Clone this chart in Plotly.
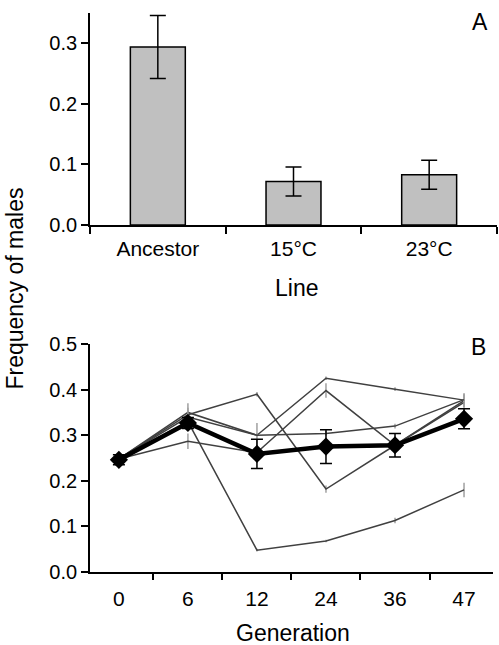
import plotly.graph_objects as go

# Panel A data
lines_a = ["Ancestor", "15°C", "23°C"]
freq_a = [0.294, 0.072, 0.083]
err_a = [0.052, 0.024, 0.024]

# Panel B data
generations = ["0", "6", "12", "24", "36", "47"]
rep1 = [0.248, 0.345, 0.390, 0.182, 0.278, 0.376]
rep2 = [0.248, 0.350, 0.300, 0.425, 0.401, 0.377]
rep3 = [0.248, 0.287, 0.262, 0.398, 0.278, 0.372]
rep4 = [0.248, 0.340, 0.300, 0.304, 0.320, 0.378]
rep5 = [0.248, 0.330, 0.048, 0.068, 0.113, 0.180]
rep1_err = [0.005, 0.010, 0.005, 0.008, 0.005, 0.015]
rep2_err = [0.005, 0.020, 0.005, 0.004, 0.004, 0.015]
rep3_err = [0.005, 0.017, 0.010, 0.016, 0.008, 0.012]
rep4_err = [0.005, 0.020, 0.027, 0.005, 0.005, 0.010]
rep5_err = [0.005, 0.010, 0.003, 0.003, 0.006, 0.016]
mean_b = [0.246, 0.327, 0.259, 0.275, 0.278, 0.336]
mean_err = [0.011, 0.012, 0.032, 0.037, 0.026, 0.022]

FONT = "Liberation Sans, Arial, sans-serif"

fig = go.Figure()

fig.add_trace(go.Bar(
    x=lines_a, y=freq_a,
    marker=dict(color="#c0c0c0", line=dict(color="black", width=1.5)),
    error_y=dict(type="data", array=err_a, color="black", thickness=1.5, width=8),
    xaxis="x", yaxis="y", showlegend=False,
))

reps = [rep1, rep2, rep3, rep4, rep5]
rerrs = [rep1_err, rep2_err, rep3_err, rep4_err, rep5_err]
for r, e in zip(reps, rerrs):
    fig.add_trace(go.Scatter(
        x=generations, y=r, mode="lines",
        line=dict(color="#404040", width=1.5),
        error_y=dict(type="data", array=e, color="#a0a0a0", thickness=1.5, width=0),
        xaxis="x2", yaxis="y2", showlegend=False,
    ))

fig.add_trace(go.Scatter(
    x=generations, y=mean_b, mode="lines+markers",
    line=dict(color="black", width=4.5),
    marker=dict(symbol="diamond", size=14, color="black"),
    error_y=dict(type="data", array=mean_err, color="black", thickness=1.5, width=6),
    xaxis="x2", yaxis="y2", showlegend=False,
))

axis_common = dict(
    showline=True, linecolor="black", linewidth=1.8,
    ticks="outside", tickcolor="black", tickwidth=1.5,
    showgrid=False, zeroline=False,
    tickfont=dict(family=FONT, size=20, color="black"),
)

fig.update_layout(
    width=499, height=645,
    margin=dict(l=90, r=2, t=6, b=73),
    plot_bgcolor="white", paper_bgcolor="white",
    bargap=0.595,
    xaxis=dict(domain=[0, 1], anchor="y", type="category", tickson="boundaries",
               ticklen=7, ticklabelstandoff=4, **axis_common),
    yaxis=dict(domain=[0.6206, 1.0], anchor="x", range=[0, 0.35],
               tickvals=[0, 0.1, 0.2, 0.3], tickformat=".1f", ticklen=7, **axis_common),
    xaxis2=dict(domain=[0, 0.990], anchor="y2", type="category", tickson="boundaries",
                ticklen=6, ticklabelstandoff=7, **axis_common),
    yaxis2=dict(domain=[0, 0.4078], anchor="x2", range=[0, 0.5],
                dtick=0.1, tickformat=".1f", ticklen=7, **axis_common),
    font=dict(family=FONT, color="black"),
)
fig.update_xaxes(tickfont_size=21)

W, H = 499, 645
L, R, T, B = 90, 2, 6, 73
pw, ph = W - L - R, H - T - B

def px(xp):
    return (xp - L) / pw

def py(yp):
    return (H - B - yp) / ph

ann = [
    dict(text="Frequency of males", x=px(15), y=py(285), textangle=-90, size=23),
    dict(text="Line", x=px(296), y=py(284), textangle=0, size=23),
    dict(text="Generation", x=px(293), y=py(634), textangle=0, size=23),
    dict(text="A", x=px(480), y=py(15), textangle=0, size=23),
    dict(text="B", x=px(478), y=py(344), textangle=0, size=23),
]
for a in ann:
    fig.add_annotation(text=a["text"], x=a["x"], y=a["y"], xref="paper", yref="paper",
                       xanchor="center", yanchor="middle", showarrow=False,
                       textangle=a["textangle"],
                       font=dict(family=FONT, size=a["size"], color="black"))

fig.write_html(
    "out.html",
    config={"displayModeBar": False},
    post_script="document.body.style.margin='0';document.body.style.padding='0';document.body.style.overflow='hidden';",
)
